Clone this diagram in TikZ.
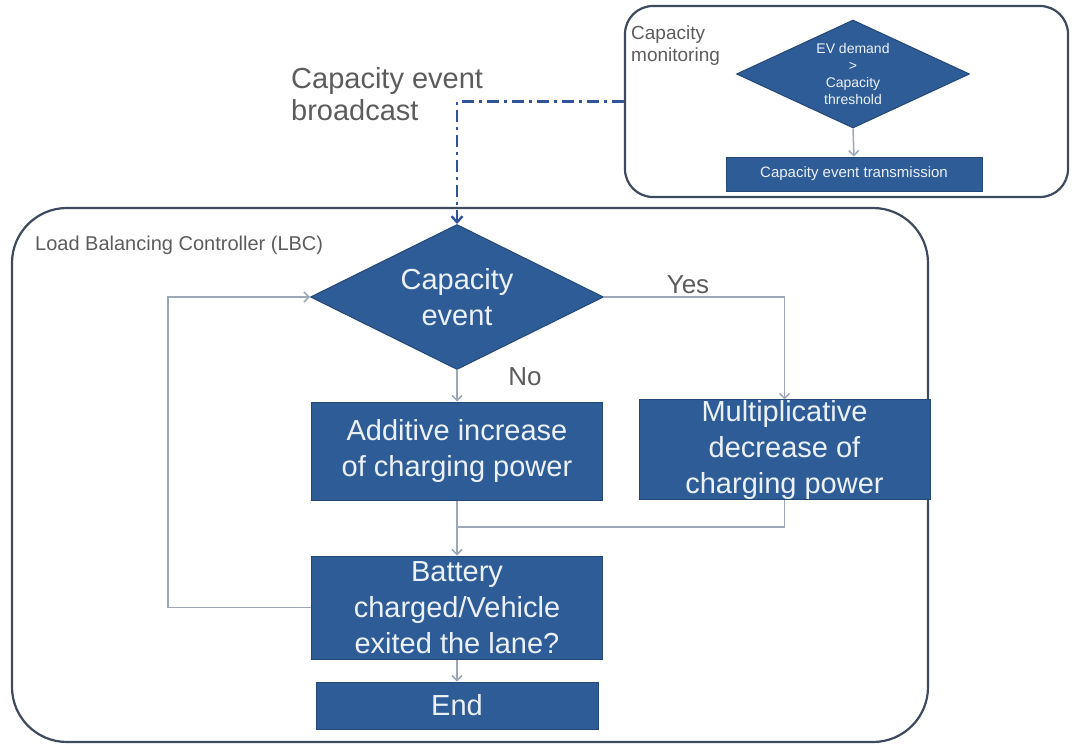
\documentclass[tikz,border=0pt]{standalone}
\usepackage{fontspec}
\setmainfont{Liberation Sans}
\usetikzlibrary{shapes.geometric,arrows.meta,calc}
\definecolor{boxblue}{RGB}{46,92,150}
\definecolor{boxedge}{RGB}{36,72,120}
\definecolor{flowgray}{RGB}{158,167,184}
\definecolor{framegray}{RGB}{62,74,94}
\definecolor{labelgray}{RGB}{92,92,92}
\definecolor{signalblue}{RGB}{47,85,151}
\definecolor{boxtext}{RGB}{236,241,248}

\begin{document}
\begin{tikzpicture}[x=1pt,y=-1pt,
  procbox/.style={draw=boxedge, fill=boxblue, text=boxtext, line width=1pt,
                  inner sep=0pt, align=center},
  decision/.style={diamond, draw=boxedge, fill=boxblue, text=boxtext,
                   line width=1pt, inner sep=0pt, align=center},
  frame/.style={draw=framegray, line width=2.2pt, inner sep=0pt},
  flow/.style={draw=flowgray, line width=1.5pt},
  flowarrow/.style={flow, -{Straight Barb[length=5pt,width=10pt]}},
  signal/.style={draw=signalblue, line width=2.4pt,
                 dash pattern=on 12pt off 5pt on 3pt off 5pt,
                 -{Straight Barb[length=6pt,width=11pt]}},
  caption/.style={text=labelgray, inner sep=0pt, align=left},
  bigfont/.style={font=\fontsize{29}{36}\selectfont}]

\useasboundingbox (0,0) rectangle (1074,744);

% enclosing frames
\node[frame, rounded corners=55pt, minimum width=916pt, minimum height=534pt] (lbc) at (470,475) {};
\node[frame, rounded corners=28pt, minimum width=443pt, minimum height=191pt] (mon) at (846.5,101.5) {};

% capacity monitoring part
\node[caption, anchor=west, font=\fontsize{19}{22}\selectfont] (monlabel) at (631,46) {Capacity\\monitoring};
\node[decision, aspect=2.2, minimum width=233pt, minimum height=108pt,
      font=\fontsize{14}{17}\selectfont] (thresh) at (853,74) {EV demand\\>\\Capacity\\threshold};
\node[procbox, minimum width=256pt, minimum height=34pt,
      font=\fontsize{15}{18}\selectfont] (tx) at (854,174) {Capacity event transmission};

% broadcast label
\node[caption, anchor=west, font=\fontsize{29}{32}\selectfont] (bcast) at (291,94) {Capacity event\\broadcast};

% load balancing controller part
\node[caption, anchor=west, font=\fontsize{20}{24}\selectfont] (lbclabel) at (35,245) {Load Balancing Controller (LBC)};
\node[decision, bigfont, aspect=2, minimum width=293pt, minimum height=145pt] (cap) at (457,297) {Capacity\\event};
\node[procbox, bigfont, minimum width=291pt, minimum height=98pt] (add) at (457,451) {Additive increase\\of charging power};
\node[procbox, bigfont, minimum width=291pt, minimum height=97pt] (mult) at (784.5,449.5) {Multiplicative\\decrease of\\charging power};
\node[procbox, bigfont, minimum width=291pt, minimum height=103pt] (batt) at (457,607.5) {Battery\\charged/Vehicle\\exited the lane?};
\node[procbox, bigfont, minimum width=282pt, minimum height=47pt] (endbox) at (457,705.5) {End};

\node[caption, font=\fontsize{26}{30}\selectfont] (yes) at (688,285) {Yes};
\node[caption, font=\fontsize{26}{30}\selectfont] (no) at (525,377) {No};

% connectors
\coordinate (merge) at (457,527);
\coordinate (loopx) at (168,607.5);

\draw[flowarrow] (thresh.south) -- (tx.north);
\draw[signal] (mon.west) -| (cap.north);
\draw[flowarrow] (cap.south) -- (add.north);
\draw[flowarrow] (cap.east) -| (mult.north);
\draw[flowarrow] (add.south) -- (batt.north);
\draw[flow] (mult.south) |- (merge);
\draw[flowarrow] (batt.west) -- (loopx) |- (cap.west);
\draw[flowarrow] (batt.south) -- (endbox.north);
\end{tikzpicture}
\end{document}
